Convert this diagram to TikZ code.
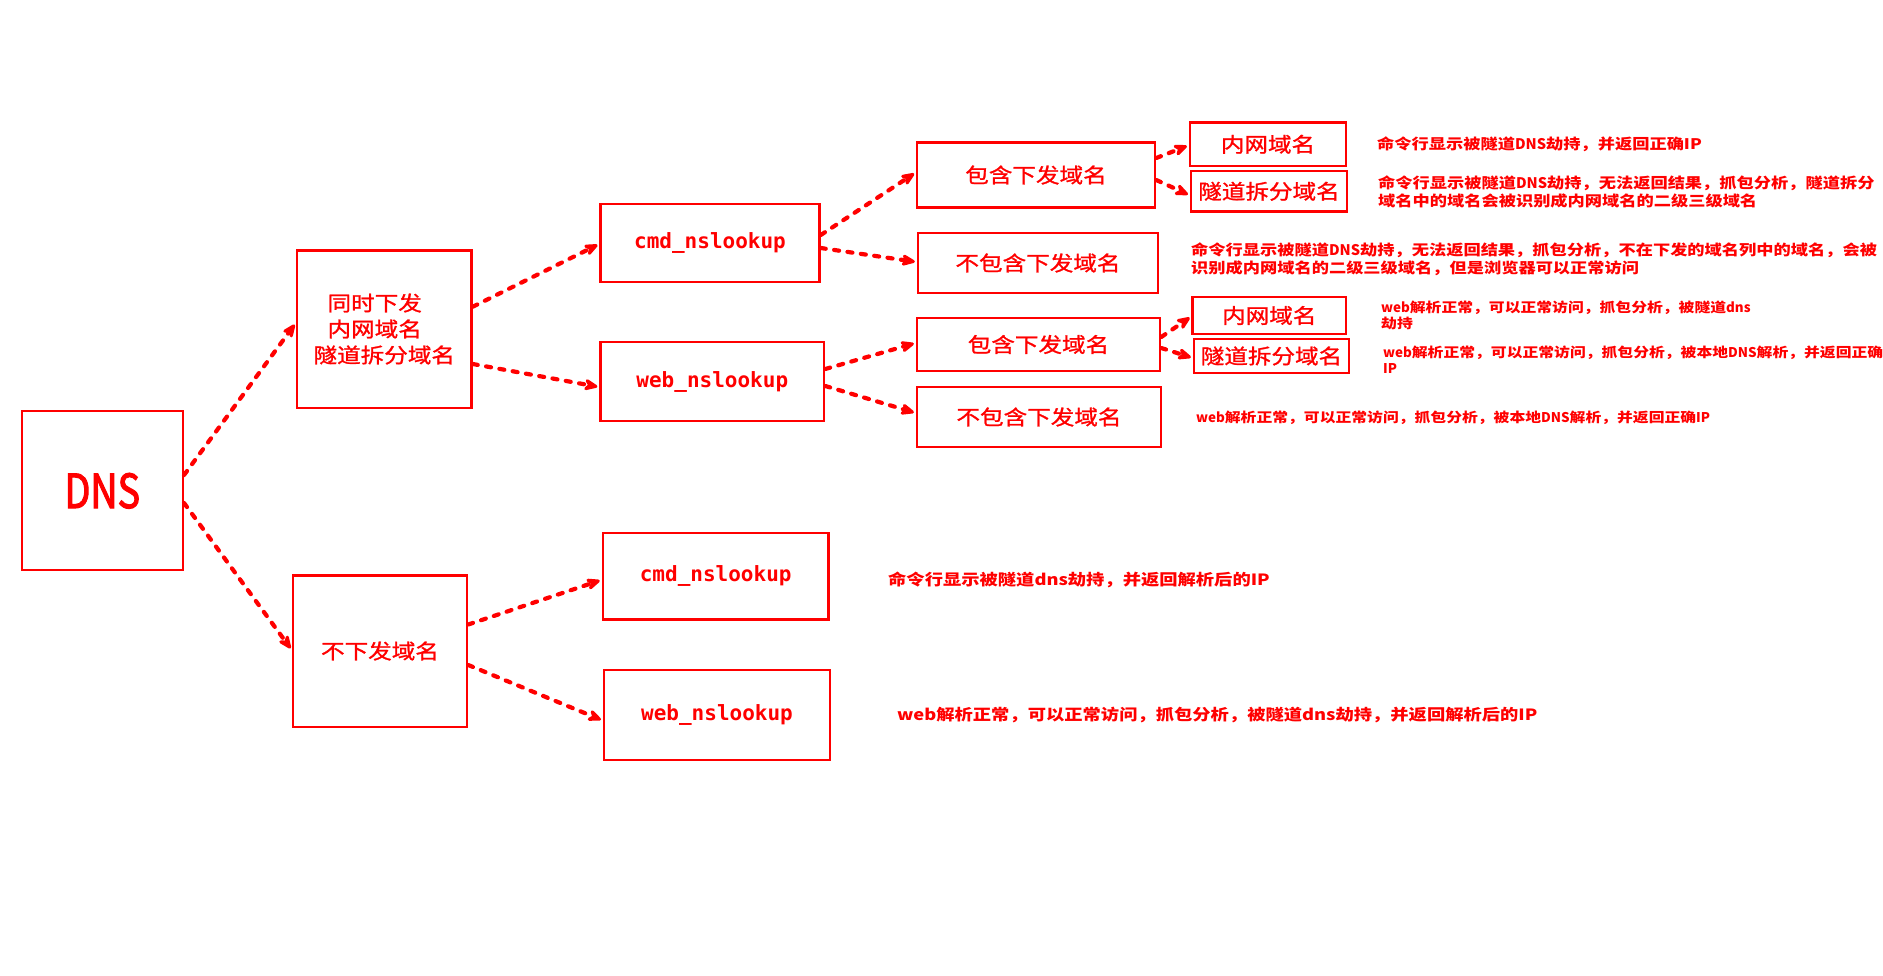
\documentclass[tikz,border=0pt]{standalone}
\usepackage{fontspec}
\setmainfont{Noto Sans CJK SC}
\newfontfamily\boxfont[FakeStretch=1.15,FakeBold=1.2]{Noto Sans CJK SC}
\newfontfamily\annfont[FakeStretch=1.18]{Noto Sans CJK SC}
\newfontfamily\annlat{Noto Sans CJK SC}
\newfontfamily\dnsfont[FakeStretch=0.8,FakeBold=2.2]{Noto Sans CJK SC}
\newfontfamily\monofont{DejaVu Sans Mono}
\newcommand\latn[1]{{\annlat #1}}
\usetikzlibrary{arrows.meta,calc}
\tikzset{
  box/.style={draw=red, line width=2.5pt, text=red, inner sep=0pt, align=center,
    font=\boxfont\fontsize{20.5}{26}\selectfont},
  monobox/.style={box, font=\monofont\bfseries\fontsize{21}{24}\selectfont},
  darr/.style={draw=red, line width=4.2pt, dash pattern=on 5pt off 8.5pt, line cap=round,
    shorten >=2pt, -{Stealth[length=18pt,width=15pt,round]}},
  annbase/.style={text=red, inner sep=0pt, anchor=west, align=left},
  annA/.style={annbase, font=\annfont\bfseries\fontsize{14.6}{18.5}\selectfont},
  annB/.style={annbase, font=\annfont\bfseries\fontsize{13.4}{16}\selectfont},
  annC/.style={annbase, font=\annfont\bfseries\fontsize{15.5}{18.5}\selectfont},
}
\begin{document}
\begin{tikzpicture}[x=1pt,y=-1pt]
\useasboundingbox (0,0) rectangle (1883,975);
\fill[white] (0,0) rectangle (1883,975);

% boxes
\node[box, minimum width=161pt, minimum height=159pt, text depth=-4pt, font=\dnsfont\fontsize{47}{50}\selectfont] (dns) at (102.3,490.5) {DNS};
\node[box, minimum width=174.5pt, minimum height=157.5pt, align=left] (tong) at (384.3,329) {\hspace*{14pt}同时下发\\\hspace*{14pt}内网域名\\隧道拆分域名};
\node[box, minimum width=174pt, minimum height=151.5pt] (buxia) at (380,651) {不下发域名};

\node[monobox, minimum width=219pt, minimum height=78pt] (cmd1) at (710,243) {cmd\_nslookup};
\node[monobox, minimum width=223.5pt, minimum height=79pt] (web1) at (712.3,381.5) {web\_nslookup};
\node[monobox, minimum width=225.7pt, minimum height=86.5pt] (cmd2) at (715.7,576.4) {cmd\_nslookup};
\node[monobox, minimum width=226pt, minimum height=90pt] (web2) at (717,715) {web\_nslookup};

\node[box, minimum width=238pt, minimum height=65pt] (bh1) at (1036,175) {包含下发域名};
\node[box, minimum width=240pt, minimum height=60pt] (bbh1) at (1038,263) {不包含下发域名};
\node[box, minimum width=243pt, minimum height=53pt] (bh2) at (1038.5,344.5) {包含下发域名};
\node[box, minimum width=244pt, minimum height=60pt] (bbh2) at (1039,417) {不包含下发域名};

\node[box, minimum width=156pt, minimum height=43.3pt] (nw1) at (1268,144.3) {内网域名};
\node[box, minimum width=156pt, minimum height=40.7pt] (sd1) at (1269,191.3) {隧道拆分域名};
\node[box, minimum width=153.4pt, minimum height=37pt] (nw2) at (1269.3,315.5) {内网域名};
\node[box, minimum width=155pt, minimum height=33.7pt] (sd2) at (1271.5,356) {隧道拆分域名};

% connectors
\draw[darr] ([yshift=15.5pt]dns.east) -- ([yshift=6pt]tong.west);
\draw[darr] ([yshift=-12.5pt]dns.east) -- ([yshift=1pt]buxia.west);
\draw[darr] ([yshift=22.3pt]tong.east) -- ([yshift=-1pt]cmd1.west);
\draw[darr] ([yshift=-35pt]tong.east) -- ([yshift=-5.5pt]web1.west);
\draw[darr] ([yshift=26.5pt]buxia.east) -- ([yshift=-3.5pt]cmd2.west);
\draw[darr] ([yshift=-14pt]buxia.east) -- ([yshift=-5.5pt]web2.west);
\draw[darr] ([yshift=8pt]cmd1.east) -- ([yshift=2.5pt]bh1.west);
\draw[darr] ([yshift=-5pt]cmd1.east) -- ([yshift=1pt]bbh1.west);
\draw[darr] ([yshift=12.5pt]web1.east) -- ([yshift=1.5pt]bh2.west);
\draw[darr] ([yshift=-4.5pt]web1.east) -- ([yshift=4pt]bbh2.west);
\draw[darr] ([yshift=17pt]bh1.east) -- ([yshift=-1pt]nw1.west);
\draw[darr] ([yshift=-5pt]bh1.east) -- ([yshift=-4pt]sd1.west);
\draw[darr] ([yshift=7.5pt]bh2.east) -- ([yshift=-1pt]nw2.west);
\draw[darr] ([yshift=-3.5pt]bh2.east) -- ([yshift=-2pt]sd2.west);

% annotations
\node[annA] (a1) at (1377,144) {命令行显示被隧道\latn{DNS}劫持，并返回正确IP};
\node[annA] (a2) at (1378,192) {命令行显示被隧道\latn{DNS}劫持，无法返回结果，抓包分析，隧道拆分\\域名中的域名会被识别成内网域名的二级三级域名};
\node[annA] (a3) at (1191,259) {命令行显示被隧道\latn{DNS}劫持，无法返回结果，抓包分析，不在下发的域名列中的域名，会被\\识别成内网域名的二级三级域名，但是浏览器可以正常访问};
\node[annB] (a4) at (1381,315) {\latn{web}解析正常，可以正常访问，抓包分析，被隧道\latn{dns}\\劫持};
\node[annB] (a5) at (1383,360) {\latn{web}解析正常，可以正常访问，抓包分析，被本地\latn{DNS}解析，并返回正确\\\latn{IP}};
\node[annB] (a6) at (1196,418) {\latn{web}解析正常，可以正常访问，抓包分析，被本地\latn{DNS}解析，并返回正确\latn{IP}};
\node[annC] (a7) at (888,580) {命令行显示被隧道dns劫持，并返回解析后的IP};
\node[annC] (a8) at (897,715) {web解析正常，可以正常访问，抓包分析，被隧道dns劫持，并返回解析后的IP};
\end{tikzpicture}
\end{document}
